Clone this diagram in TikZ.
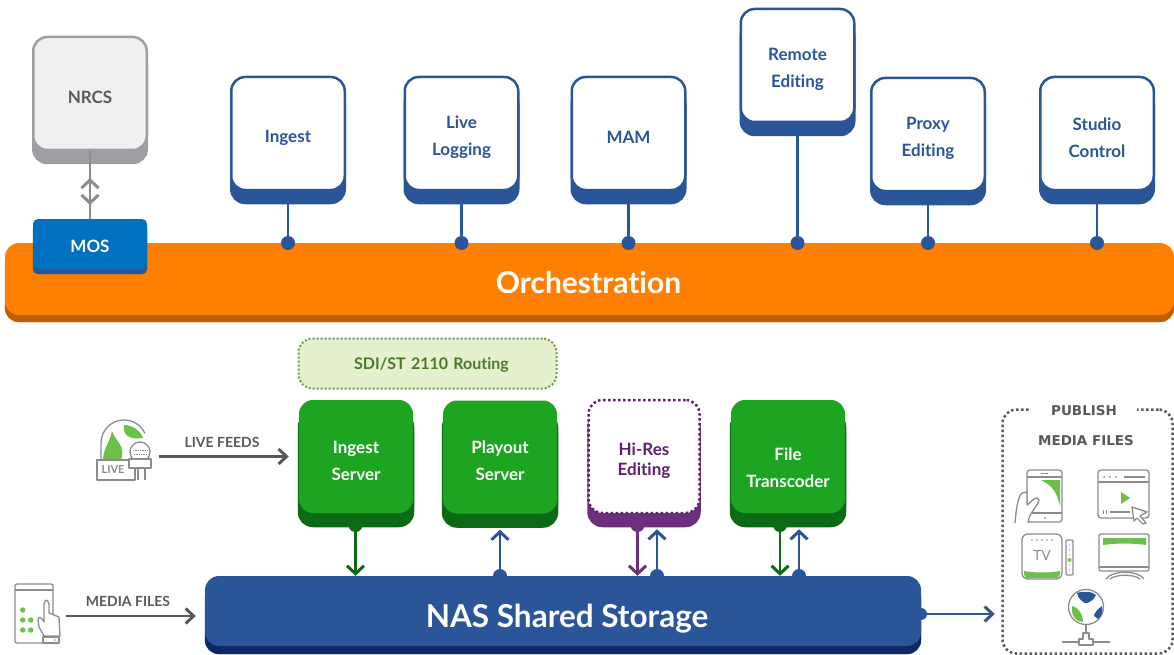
\documentclass[tikz,border=0pt]{standalone}
\usepackage{fontspec}
\setmainfont{Lato}[Ligatures=NoCommon]
\newfontfamily\pubfont{DejaVu Sans}
\usetikzlibrary{positioning}
\usetikzlibrary{arrows.meta}
\definecolor{navy}{HTML}{2A5599}
\definecolor{navyd}{HTML}{0D2A66}
\definecolor{leaf}{HTML}{1DA521}
\definecolor{leafd}{HTML}{0A6B12}
\definecolor{lime}{HTML}{6CC04A}
\definecolor{plum}{HTML}{6B2F7C}
\definecolor{plumd}{HTML}{5E1F6E}
\definecolor{orch}{HTML}{FF8000}
\definecolor{orchd}{HTML}{BF6000}
\definecolor{mos}{HTML}{0070C0}
\definecolor{ash}{HTML}{9D9FA3}
\definecolor{ashl}{HTML}{EFF0F0}
\definecolor{ink}{HTML}{58595B}
\definecolor{icon}{HTML}{8A8C8E}
\definecolor{routef}{HTML}{E5F0CE}
\definecolor{routed}{HTML}{6A9E3E}
\definecolor{routet}{HTML}{4C7A2A}
\tikzset{
    lift/.style 2 args = {preaction={fill=#1,draw=#1,solid,transform canvas={yshift=-#2}}},
    drop/.style = {execute at begin node={\rule{0pt}{#1}}},
    basebox/.style = {rectangle, rounded corners=14pt, line width=2.5pt, align=center, inner sep=0pt, minimum height=113pt, text width=113.5pt, drop=21pt, font=\fontsize{17}{27}\selectfont\bfseries},
    appbox/.style = {basebox, draw=navy, fill=white, text=navy, lift={navy}{13pt}},
    srvbox/.style = {basebox, minimum width=114pt, text width=110pt, fill=leaf, text=white, lift={leafd}{13pt}},
    hiresbox/.style = {basebox, minimum width=111pt, text width=108pt, draw=plumd, fill=white, text=plumd, lift={plum}{13pt}, dash pattern=on 2.5pt off 2.5pt, drop=11pt, font=\fontsize{17}{20}\selectfont\bfseries},
    dots/.style = {circle, fill=#1, minimum size=14pt, inner sep=0pt},
    edgeb/.style = {line width=2.5pt, navy},
    edgeu/.style = {-{Straight Barb[length=8pt,width=17pt,line width=3pt]}, line width=2.5pt, navy, shorten >=15pt},
    edged/.style = {-{Straight Barb[length=8pt,width=17pt,line width=3pt]}, line width=2.5pt},
    edgeg/.style = {-{Straight Barb[length=8pt,width=15pt,line width=3pt]}, line width=2.5pt, ink, shorten >=9pt},
    edgep/.style = {-{Straight Barb[length=8pt,width=15pt,line width=3pt,color=navy!70!ink]}, line width=2.5pt, navy, shorten >=6.5pt},
    edgem/.style = {{Straight Barb[length=8pt,width=17pt,line width=3pt]}-{Straight Barb[length=8pt,width=17pt,line width=3pt]}, line width=2.5pt, icon},
    caps/.style = {font=\fontsize{14}{16}\selectfont\bfseries, text=ink, inner sep=0pt},
    pubcaps/.style = {font=\fontsize{13.5}{16}\pubfont\bfseries, text=ink, inner sep=0pt},
    icn/.style = {draw=icon, line width=1.3pt, line join=round},
}

\begin{document}
\begin{tikzpicture}[x=1pt,y=-1pt]
  \useasboundingbox (0,0) rectangle (1174,655);

  % bus
  \node[rectangle, rounded corners=14pt, fill=orch, minimum width=1169pt, minimum height=72pt, inner sep=0pt, lift={orchd}{7pt}] (orchestration) at (589.5,279) {};
  \node[text=white, font=\fontsize{30}{32}\selectfont\bfseries, inner sep=0pt] (orchlabel) at (588.5,282) {Orchestration};

  % top row
  \node[appbox] (ingest) at (288,133.5) {Ingest};
  \node[appbox, right=57.5pt of ingest] (logging) {Live\\Logging};
  \node[appbox, right=51pt of logging] (mam) {MAM};
  \node[appbox] (remote) at (797.5,65.5) {Remote\\Editing};
  \node[appbox] (proxy) at (928,134.5) {Proxy\\Editing};
  \node[appbox] (studio) at (1097,133.5) {Studio\\Control};
  \foreach \app in {ingest,logging,mam,remote,proxy,studio} {
    \node[dots=navy] (dot\app) at (\app |- 0,243) {};
    \draw[edgeb] (\app.south) -- (dot\app);
  }

  % nrcs
  \node[basebox, draw=ash, fill=ashl, text=ink, lift={ash}{13pt}] (nrcs) at (90,93.5) {NRCS};
  \node[rectangle, rounded corners=5pt, fill=mos, text=white, minimum width=114pt, minimum height=50pt, inner sep=0pt, lift={navy}{5pt}, drop=18pt, text width=114pt, align=center, font=\fontsize{17}{20}\selectfont\bfseries] (mosbox) at (90,244) {MOS};
  \coordinate (mosup) at (90,178);
  \coordinate (mosdn) at (90,205);
  \draw[line width=2.5pt, icon] (nrcs.south) -- (mosbox.north);
  \draw[edgem] (mosup) -- (mosdn);

  % routing
  \node[rectangle, rounded corners=14pt, draw=routed, fill=routef, line width=2pt, dash pattern=on 2pt off 2pt, minimum width=258pt, minimum height=50pt, inner sep=0pt, text=routet, text width=250pt, align=center, drop=14pt, font=\fontsize{16}{20}\selectfont\bfseries] (routing) at (427.5,363.5) {\hspace*{8pt}SDI/ST 2110 Routing};

  % servers
  \node[srvbox] (ingestsrv) at (356,456.5) {Ingest\\Server};
  \node[srvbox] (playout) at (500,457) {Playout\\Server};
  \node[hiresbox] (hires) at (644,456.5) {Hi-Res\\Editing};
  \node[srvbox, drop=36pt] (transcoder) at (788,456.5) {File\\Transcoder};

  % storage
  \node[rectangle, rounded corners=14pt, fill=navy, minimum width=716pt, minimum height=70pt, inner sep=0pt, lift={navyd}{8pt}] (nas) at (563,611) {};
  \node[text=white, font=\fontsize{31.5}{34}\selectfont\bfseries, inner sep=0pt] (naslabel) at (567,619) {NAS Shared Storage};

  \node[dots=leafd] (ds1) at (355.5,525) {};
  \draw[edged, leafd] (ds1) -- (ds1 |- nas.north);
  \node[dots=navy] (ds2) at (500,576) {};
  \draw[edgeu] (ds2) -- (ds2 |- playout.south);
  \node[dots=plum] (ds3) at (637.5,525) {};
  \draw[edged, plum] (ds3) -- (ds3 |- nas.north);
  \node[dots=navy] (ds4) at (657,576) {};
  \draw[edgeu] (ds4) -- (ds4 |- hires.south);
  \node[dots=leafd] (ds5) at (780,525) {};
  \draw[edged, leafd] (ds5) -- (ds5 |- nas.north);
  \node[dots=navy] (ds6) at (799,576) {};
  \draw[edgeu] (ds6) -- (ds6 |- transcoder.south);

  % publish
  \node[rectangle, rounded corners=14pt, draw=ink, line width=2.5pt, dash pattern=on 2.5pt off 2.5pt, minimum width=170pt, minimum height=244pt, inner sep=0pt] (publish) at (1087.5,531.5) {};
  \node[pubcaps, fill=white, minimum width=106pt, minimum height=16pt] (publishlabel) at (1084,411) {PUBLISH};
  \node[pubcaps] (publishfiles) at (1086,441) {MEDIA FILES};
  \node[dots=navy, minimum size=12pt] (nasdot) at (921,614) {};
  \draw[edgep] (nasdot) -- (nasdot -| publish.west);

  % live
  \node[inner sep=0pt, minimum width=62pt, minimum height=60pt] (liveicon) at (128,456.5) {};
  \node[caps] (livelabel) at (222,442) {LIVE FEEDS};
  \draw[edgeg] (liveicon.east) -- (ingestsrv.west);
  \fill[lime] (103,459) .. controls (104,447) and (110,442) .. (112,431) .. controls (116,442) and (126,446) .. (121,460) -- cycle;
  \fill[lime] (124,425) .. controls (132,425) and (140,430) .. (143,438) .. controls (131,440) and (122,436) .. (124,425) -- cycle;
  \draw[icn] (101,460) -- (101,443) arc[start angle=180, end angle=335, radius=23];
  \draw[icn, fill=white] (97,460) rectangle (135,480);
  \node[text=icon, inner sep=0pt, font=\fontsize{11}{13}\selectfont\bfseries] (livetxt) at (113,470) {LIVE};
  \draw[icn, fill=white] (140,452) circle[radius=10];
  \draw[icn, densely dotted, line width=0.7pt] (133,450) -- (147,450) (134,454) -- (146,454);
  \draw[icn, fill=white] (129,459) rectangle (151,468);
  \draw[icn] (138,468) -- (138,480) (145,468) -- (145,480);

  % media
  \node[inner sep=0pt, minimum width=52pt, minimum height=60pt] (mediaicon) at (40,616) {};
  \node[caps] (medialabel) at (128,601) {MEDIA FILES};
  \draw[edgeg] (mediaicon.east) -- (mediaicon.east -| nas.west);
  \draw[icn, rounded corners=2pt] (15,584) rectangle (53,643);
  \draw[icn] (15,590) -- (53,590);
  \foreach \px/\py in {22.7/610,22.7/620,30.7/620,22.7/630,30.7/630} \fill[lime] (\px,\py) circle[radius=2.7];
  \draw[icn, fill=white] (44,636) -- (39,627) -- (38,620) .. controls (39,615) and (42,618) .. (44,622) -- (44,604) .. controls (45,599) and (48,599) .. (49,604) -- (49,613) -- (59,617) -- (60,636) -- cycle;
  \draw[icn, fill=white] (43,637) rectangle (59,643);
  \fill[icon] (55,640) circle[radius=0.9];

  % publish icons
  \draw[icn, rounded corners=3pt] (1027,470) rectangle (1062,522);
  \draw[icn] (1027,477) -- (1062,477) (1027,513) -- (1062,513) (1041,473.5) -- (1048,473.5);
  \fill[icon] (1045,518) circle[radius=1];
  \fill[lime] (1041,480) -- (1060,480) -- (1060,506) .. controls (1056,490) and (1052,486) .. cycle;
  \draw[icn, fill=white] (1015,523) .. controls (1016,510) and (1018,496) .. (1022,493) -- (1027,492) -- (1027,505) .. controls (1033,500) and (1037,495) .. (1039,500) .. controls (1037,508) and (1029,512) .. (1028,523);
  \draw[icn, rounded corners=3pt] (1098,470) rectangle (1149,518);
  \draw[icn] (1098,482) -- (1149,482) (1124,477) -- (1145,477) (1110,512) -- (1130,512) (1103.5,510) -- (1103.5,514) (1106.5,510) -- (1106.5,514);
  \foreach \px in {1104,1110,1116} \fill[icon] (\px,477) circle[radius=1];
  \fill[lime] (1121,492) -- (1130,498) -- (1121,504) -- cycle;
  \draw[icn, fill=white] (1132,507) -- (1147,512) -- (1140,516) -- (1146,523) -- (1143,524) -- (1137,518) -- (1134,521) -- cycle;
  \fill[lime] (1024,571) .. controls (1035,573) and (1050,573) .. (1060,571) -- (1060,574) .. controls (1060,577) and (1058,578) .. (1056,578) -- (1028,578) .. controls (1026,578) and (1024,577) .. (1024,574) -- cycle;
  \draw[icn, rounded corners=6pt] (1022,534) rectangle (1062,579);
  \foreach \px in {1032,1037,1042,1047,1052} \fill[icon] (\px,540) circle[radius=0.8];
  \node[text=icon, inner sep=0pt, font=\fontsize{14}{16}\selectfont] (tvtxt) at (1042,555) {TV};
  \draw[icn, rounded corners=1pt] (1066,540) rectangle (1073,575);
  \fill[lime] (1069.5,560) circle[radius=2];
  \foreach \py in {545,550,555,565,570} \fill[icon] (1069.5,\py) circle[radius=0.7];
  \draw[icn, rounded corners=2pt] (1099,534) rectangle (1149,571);
  \draw[icn] (1099,567) -- (1149,567);
  \fill[lime] (1103,538) -- (1146,538) -- (1146,545) .. controls (1130,543) and (1119,543) .. (1103,545) -- cycle;
  \draw[icn] (1106,579) .. controls (1112,570) and (1138,570) .. (1144,579);
  \draw[icn] (1110,579) .. controls (1116,574) and (1134,574) .. (1140,579);
  \draw[icn] (1086,607) circle[radius=17.5];
  \fill[navy] (1077,593) .. controls (1082,591) and (1092,591) .. (1096,595) .. controls (1094,600) and (1088,604) .. (1085,603) .. controls (1081,601) and (1078,598) .. (1077,593) -- cycle;
  \fill[navy] (1102,606) .. controls (1103,611) and (1102,615) .. (1098,619) .. controls (1096,618) and (1094,616) .. (1094,615) .. controls (1096,611) and (1099,608) .. (1102,606) -- cycle;
  \fill[lime] (1072,606) .. controls (1076,606) and (1083,613) .. (1083,622) .. controls (1076,622) and (1071,616) .. (1072,606) -- cycle;
  \draw[icn] (1086,625) -- (1086,634);
  \draw[icn] (1062,642) -- (1110,642);
  \draw[icn, fill=white] (1079,645) -- (1079,639) -- (1083,639) -- (1083,633) -- (1089,633) -- (1089,639) -- (1093,639) -- (1093,645) -- cycle;
\end{tikzpicture}
\end{document}
